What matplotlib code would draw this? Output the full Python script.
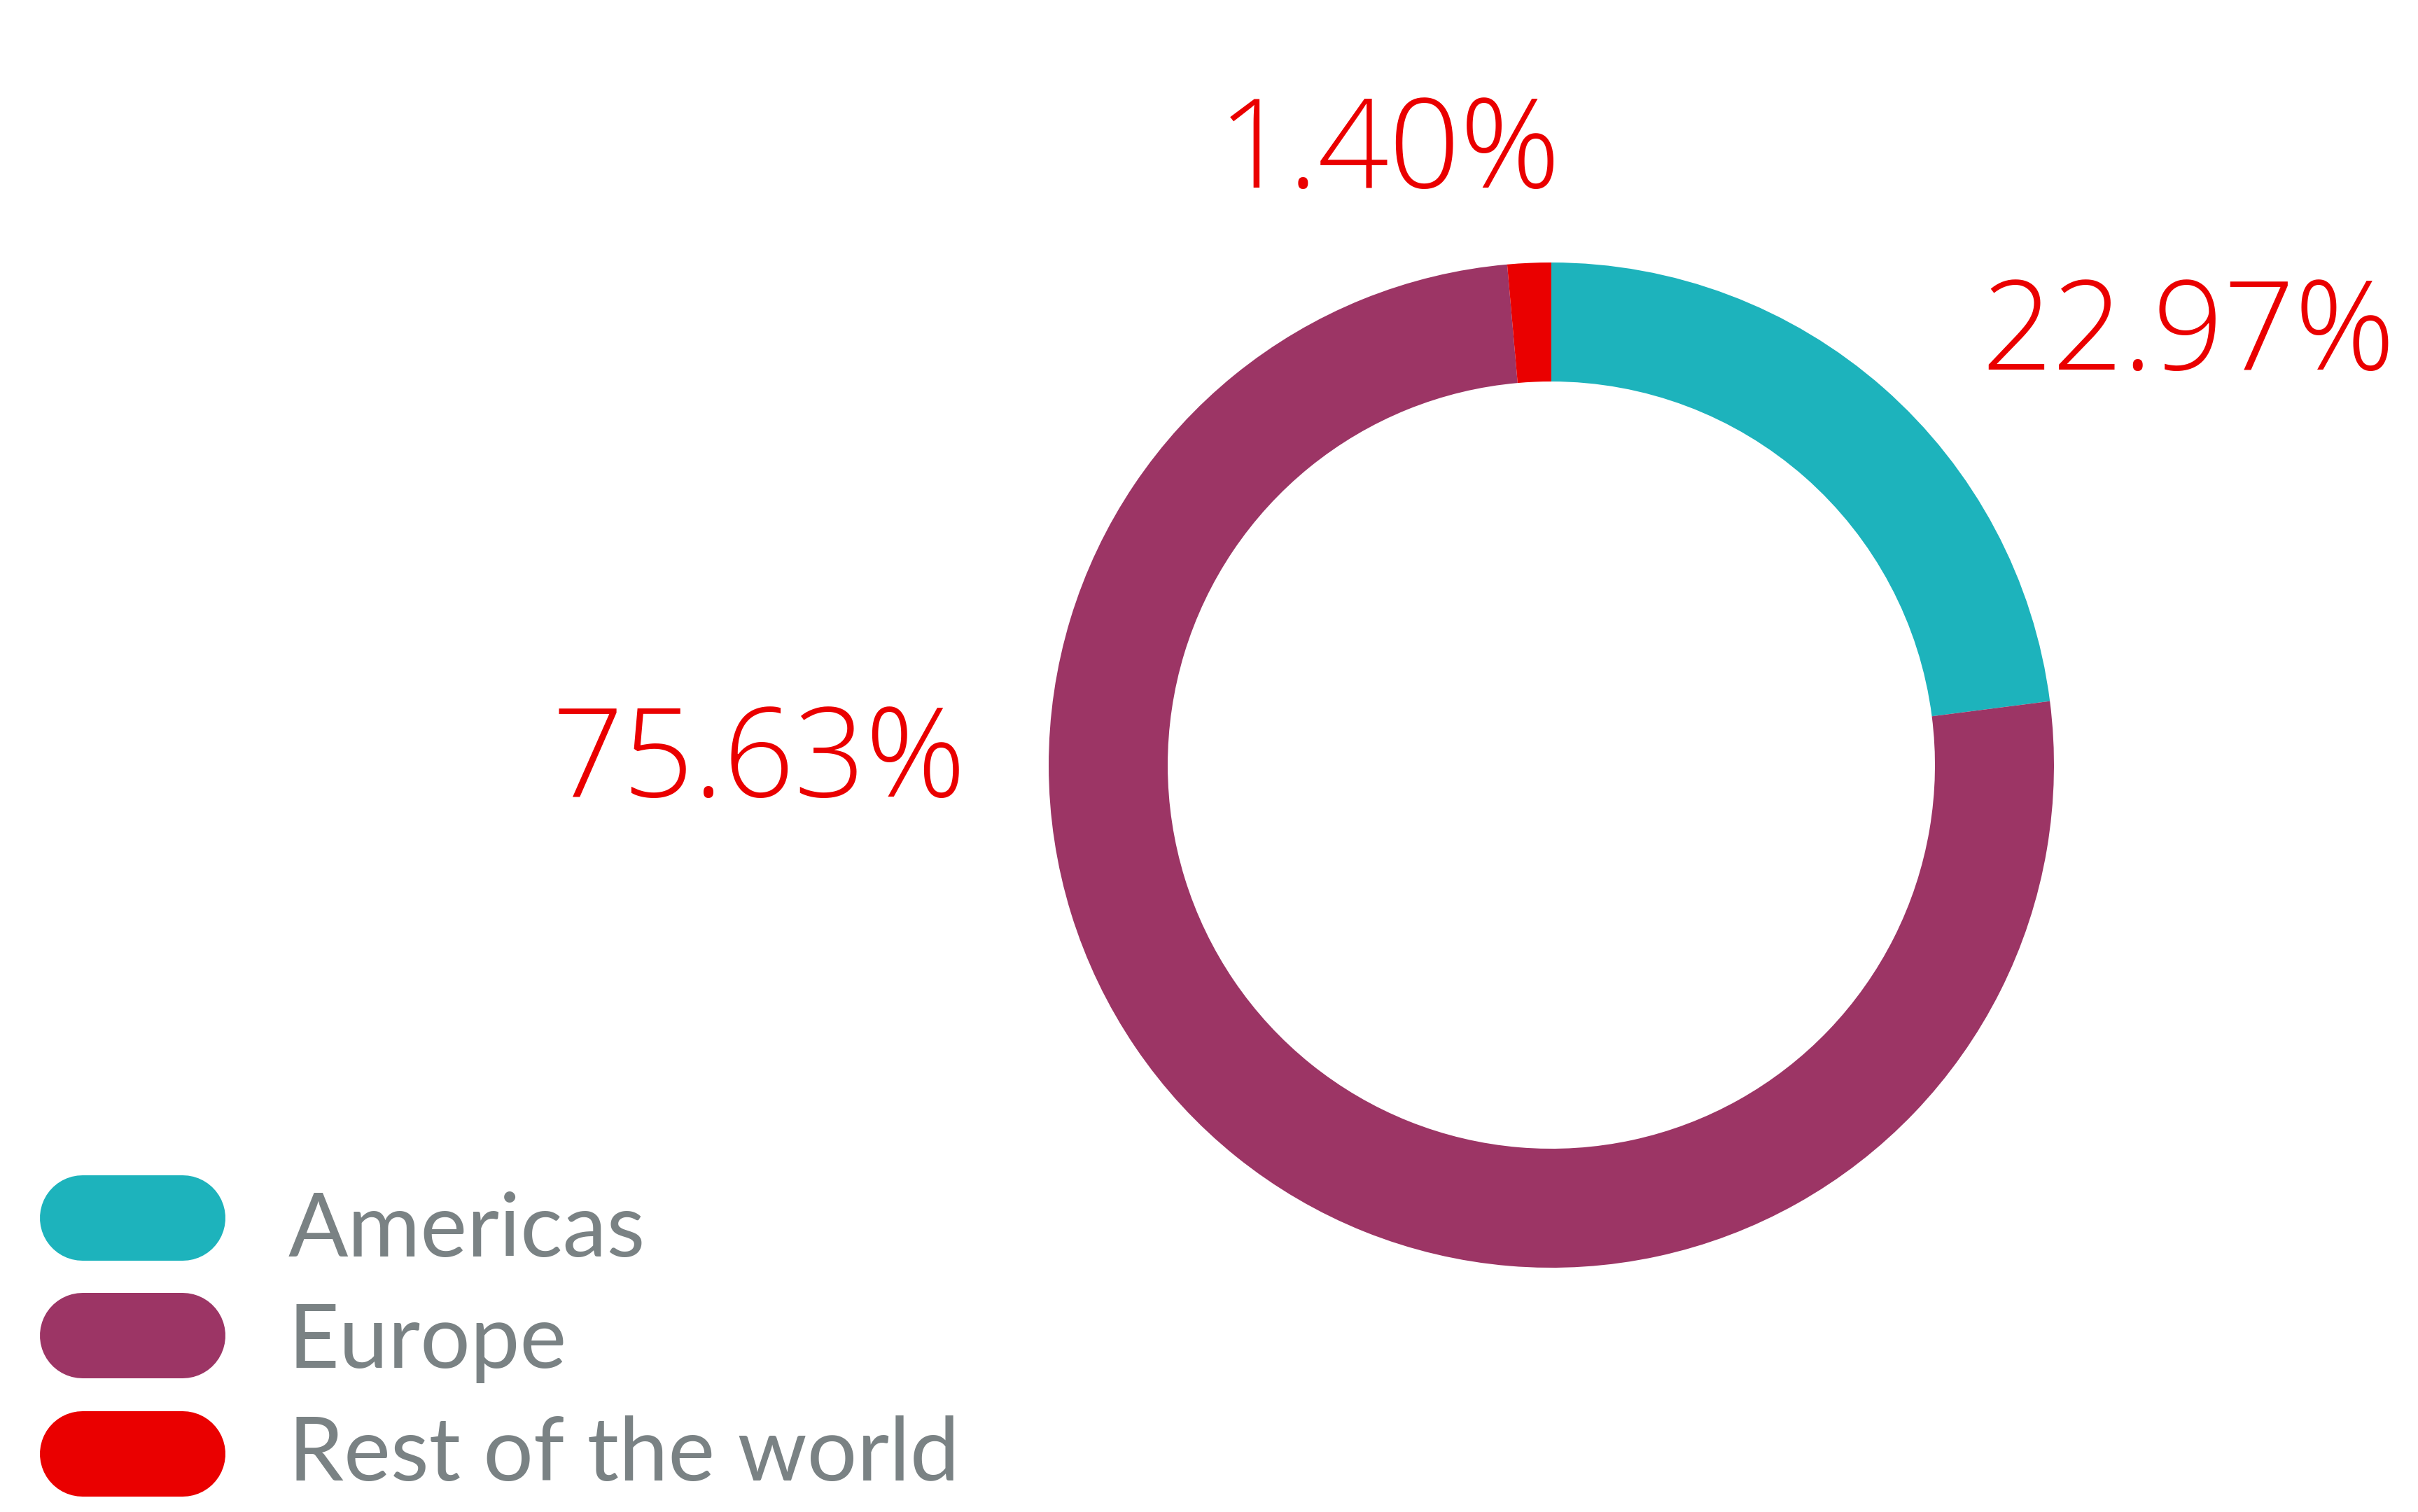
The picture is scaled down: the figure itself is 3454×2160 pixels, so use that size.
import matplotlib
matplotlib.use('Agg')
import matplotlib.pyplot as plt

# ---------- Data ----------
REGIONS = ['Americas', 'Europe', 'Rest of the world']
SHARES = [22.97, 75.63, 1.40]
COLORS = ['#1db3bc', '#9c3565', '#ea0000']

# ---------- Layout (pixel space, y up) ----------
W, H = 3454, 2160
CENTER = (2216, 1067)
R_OUT = 718
RING = 170
# left/baseline position for each value label
LABEL_POS = [(2830, 1632), (789, 1022), (1740, 1892)]
PILL_Y = [420, 252, 83]
LEGEND_BASE = [365, 206, 45]
TEXT_GREY = '#7a8284'

plt.rcParams['font.family'] = ['Open Sans', 'DejaVu Sans']

fig = plt.figure(figsize=(W / 100, H / 100), dpi=100)
ax = fig.add_axes([0, 0, 1, 1])

ax.pie(SHARES, colors=COLORS, startangle=90, counterclock=False,
       center=CENTER, radius=R_OUT, frame=True,
       wedgeprops=dict(width=RING, linewidth=0))

for val, (x, y) in zip(SHARES, LABEL_POS):
    ax.text(x, y, f'{val:.2f}%', color='#ea0000', fontsize=128,
            fontweight='light', ha='left', va='baseline')

# legend pills: thick line with round caps (122 px tall)
for name, color, py, ty in zip(REGIONS, COLORS, PILL_Y, LEGEND_BASE):
    ax.plot([118, 261], [py, py], color=color, linewidth=122 * 72 / 100,
            solid_capstyle='round')
    ax.text(412, ty, name, color=TEXT_GREY, fontsize=91,
            family=['Lato', 'DejaVu Sans'], ha='left', va='baseline')

ax.set_xlim(0, W)
ax.set_ylim(0, H)
ax.set_aspect('equal')
ax.axis('off')

fig.savefig('out.png', dpi=100, facecolor='white')
